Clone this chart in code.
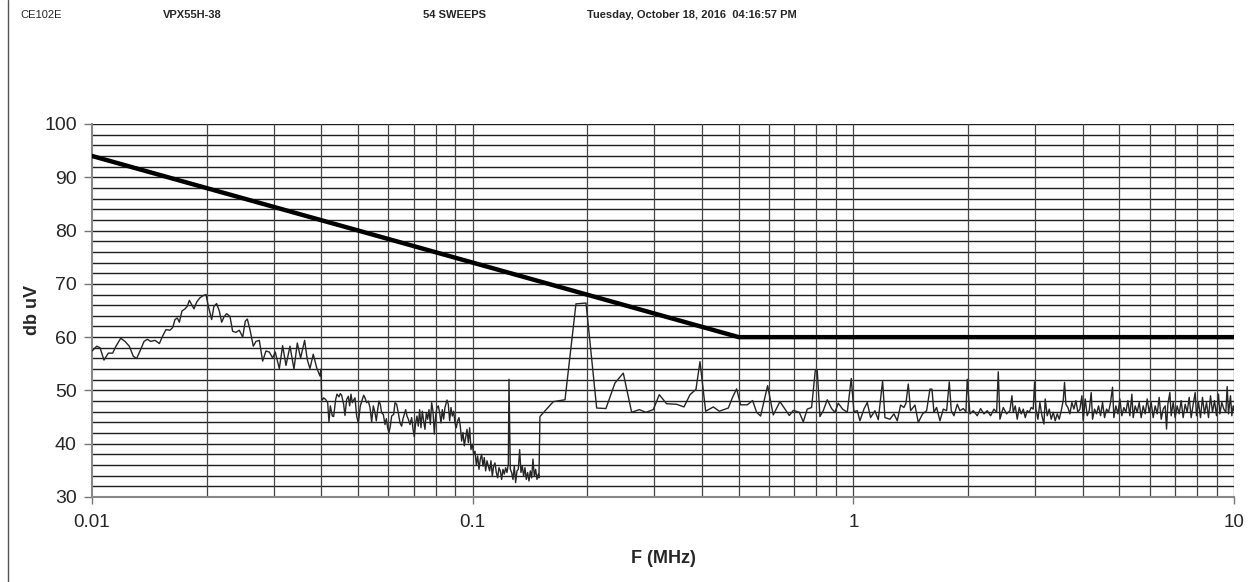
import pandas as pd, numpy as np, matplotlib.pyplot as plt, seaborn as sns
from matplotlib.lines import Line2D
from matplotlib.ticker import FixedLocator, NullFormatter

# header text
header_left = 'CE102E'
header_eut = 'VPX55H-38'
header_sweeps = '54 SWEEPS'
header_date = 'Tuesday, October 18, 2016  04:16:57 PM'

# limit line (dB uV vs MHz)
limit_f = [0.01, 0.5, 10.0]
limit_db = [94.0, 60.0, 60.0]

# band 1: 10 kHz - 40 kHz
band1_f = [0.0100, 0.01029, 0.01050, 0.01075, 0.01104, 0.01133, 0.01156, 0.01190, 0.01221, 0.01253,
           0.01284, 0.01310, 0.01337, 0.01370, 0.01398, 0.01426, 0.01464, 0.01503, 0.01533, 0.01564,
           0.01603, 0.01629, 0.01652, 0.01675, 0.01696, 0.01723, 0.01755, 0.01780, 0.01802, 0.01827,
           0.01853, 0.01884, 0.01922, 0.01961, 0.01993, 0.02021, 0.02062, 0.02091, 0.02125, 0.02160,
           0.02191, 0.02222, 0.02258, 0.02304, 0.02341, 0.02389, 0.02438, 0.02488, 0.02528, 0.02559,
           0.02600, 0.02653, 0.02696, 0.02751, 0.02807, 0.02864, 0.02923, 0.02982, 0.03030, 0.03105,
           0.03168, 0.03233, 0.03312, 0.03393, 0.03462, 0.03532, 0.03619, 0.03677, 0.03737, 0.03813,
           0.03891, 0.03970, 0.03994]
band1_db = [57.4, 58.3, 58.0, 55.7, 57.0, 57.0, 58.3, 59.8, 59.2, 58.3,
            56.4, 56.0, 57.4, 59.2, 59.6, 59.2, 59.4, 58.8, 60.2, 61.4,
            61.3, 61.8, 63.3, 63.6, 62.8, 64.9, 65.3, 65.8, 66.9, 66.1,
            65.3, 66.6, 67.4, 67.8, 68.0, 65.8, 63.3, 65.8, 66.3, 64.9,
            62.8, 63.8, 64.4, 63.9, 61.1, 60.9, 61.3, 60.0, 63.0, 63.4,
            61.4, 58.3, 59.2, 59.4, 55.5, 57.4, 57.2, 56.1, 57.2, 54.1,
            58.4, 54.7, 58.3, 54.0, 58.9, 56.1, 59.4, 55.8, 54.1, 56.8,
            54.3, 52.7, 54.0]

# band 2: 40 kHz - 150 kHz
band2_f = [0.04012, 0.04028, 0.04060, 0.04110, 0.04160, 0.04193, 0.04227, 0.04279, 0.04313, 0.04366,
           0.04401, 0.04455, 0.04491, 0.04527, 0.04582, 0.04619, 0.04666, 0.04714, 0.04752, 0.04790,
           0.04829, 0.04868, 0.04908, 0.04957, 0.05008, 0.05068, 0.05130, 0.05172, 0.05214, 0.05266,
           0.05320, 0.05374, 0.05428, 0.05483, 0.05539, 0.05583, 0.05629, 0.05674, 0.05720, 0.05766,
           0.05825, 0.05884, 0.05932, 0.05980, 0.06028, 0.06077, 0.06126, 0.06201, 0.06251, 0.06314,
           0.06378, 0.06443, 0.06508, 0.06561, 0.06614, 0.06667, 0.06721, 0.06776, 0.06844, 0.06914,
           0.06970, 0.07026, 0.07083, 0.07140, 0.07198, 0.07256, 0.07315, 0.07374, 0.07434, 0.07494,
           0.07555, 0.07616, 0.07678, 0.07740, 0.07803, 0.07866, 0.07930, 0.07994, 0.08059, 0.08124,
           0.08190, 0.08256, 0.08323, 0.08390, 0.08458, 0.08561, 0.08630, 0.08700, 0.08771, 0.08842,
           0.08913, 0.08985, 0.09058, 0.09131, 0.09205, 0.09280, 0.09355, 0.09431, 0.09507, 0.09584,
           0.09662, 0.09740, 0.09819, 0.09898, 0.09979, 0.10060, 0.10141, 0.10223, 0.10306, 0.10389,
           0.10473, 0.10558, 0.10643, 0.10729, 0.10816, 0.10904, 0.10992, 0.11081, 0.11171, 0.11261,
           0.11353, 0.11444, 0.11537, 0.11630, 0.11725, 0.11820, 0.11915, 0.12012, 0.12109, 0.12207,
           0.12306, 0.12406, 0.12456, 0.12557, 0.12658, 0.12761, 0.12864, 0.12968, 0.13073, 0.13179,
           0.13286, 0.13393, 0.13502, 0.13611, 0.13721, 0.13832, 0.13945, 0.14057, 0.14171, 0.14286,
           0.14402, 0.14518, 0.14636, 0.14754, 0.14874, 0.14934]
band2_db = [48.3, 48.2, 48.6, 48.3, 47.7, 44.1, 47.1, 45.2, 45.1, 48.3,
            49.3, 48.8, 49.4, 49.1, 47.4, 45.3, 48.3, 48.9, 47.1, 49.3,
            47.7, 48.2, 48.6, 45.2, 43.9, 47.1, 48.3, 49.1, 48.6, 47.7,
            48.0, 46.8, 44.1, 47.1, 45.8, 44.3, 46.4, 48.0, 47.4, 45.8,
            45.5, 43.6, 44.7, 43.0, 42.1, 43.3, 45.2, 45.5, 47.7, 47.4,
            45.8, 43.9, 43.3, 44.7, 45.5, 46.4, 45.2, 44.6, 43.6, 44.9,
            42.8, 41.3, 43.9, 45.2, 43.3, 46.4, 43.0, 46.1, 44.3, 42.7,
            45.8, 44.6, 46.4, 43.6, 47.7, 46.1, 41.8, 45.3, 46.8, 47.1,
            45.8, 43.9, 46.4, 44.6, 46.8, 48.2, 47.4, 44.3, 46.8, 45.2,
            46.1, 43.9, 43.0, 44.3, 44.9, 43.3, 40.5, 42.1, 39.6, 41.1,
            42.7, 40.2, 43.0, 38.9, 39.9, 38.0, 38.6, 36.1, 37.7, 35.2,
            37.1, 38.0, 35.8, 37.4, 34.9, 36.8, 35.8, 34.9, 36.8, 33.9,
            35.8, 36.4, 34.6, 33.6, 35.5, 34.9, 33.3, 35.2, 34.3, 35.5,
            34.6, 36.1, 52.1, 35.2, 34.6, 33.3, 35.8, 32.7, 34.9, 35.2,
            38.9, 34.6, 35.8, 33.9, 35.5, 33.3, 34.6, 33.0, 34.9, 33.6,
            37.1, 33.9, 35.2, 33.3, 34.3, 33.6]

# band 3: 150 kHz - 2.6 MHz
band3_f = [0.1502, 0.1629, 0.1748, 0.1868, 0.1985, 0.2117, 0.2239, 0.2365, 0.2487, 0.2616,
           0.2740, 0.2852, 0.2982, 0.3092, 0.3232, 0.3434, 0.3590, 0.3723, 0.3860, 0.3955,
           0.4093, 0.4287, 0.4446, 0.4694, 0.4819, 0.4936, 0.5057, 0.5265, 0.5437, 0.5571,
           0.5707, 0.5954, 0.6161, 0.6415, 0.6788, 0.6954, 0.7211, 0.7387, 0.7568, 0.7769,
           0.7943, 0.8040, 0.8171, 0.8337, 0.8541, 0.8768, 0.8946, 0.9128, 0.9371, 0.9640,
           0.9876, 1.0036, 1.0241, 1.0407, 1.0662, 1.0879, 1.1100, 1.1396, 1.1628, 1.1793,
           1.1937, 1.2106, 1.2478, 1.2784, 1.3044, 1.3310, 1.3581, 1.3747, 1.3942, 1.4140,
           1.4516, 1.4812, 1.5205, 1.5578, 1.5895, 1.6088, 1.6284, 1.6549, 1.6886, 1.7230,
           1.7581, 1.7867, 1.8085, 1.8379, 1.8753, 1.9055, 1.9444, 1.9760, 1.9920, 2.0244,
           2.0656, 2.1162, 2.1593, 2.2033, 2.2482, 2.2940, 2.3407, 2.3788, 2.4029, 2.4272,
           2.4767, 2.5271, 2.5785]
band3_db = [45.1, 47.9, 48.25, 66.25, 66.4, 46.7, 46.6, 51.4, 53.25, 45.9,
            46.4, 45.9, 46.4, 49.2, 47.5, 47.4, 46.9, 49.2, 50.2, 55.4,
            46.1, 46.9, 46.1, 46.7, 48.75, 50.3, 47.3, 47.3, 48.1, 45.9,
            45.2, 50.9, 45.4, 47.9, 45.3, 46.25, 45.9, 44.1, 46.5, 46.8,
            53.7, 53.7, 45.1, 46.2, 48.25, 46.6, 45.9, 47.6, 46.5, 45.9,
            52.25, 46.0, 46.2, 44.3, 46.5, 47.75, 44.9, 46.2, 44.5, 48.4,
            51.8, 44.9, 44.6, 45.6, 44.3, 47.25, 46.8, 47.6, 51.2, 46.2,
            47.25, 44.0, 45.6, 46.2, 50.25, 50.25, 45.9, 46.8, 44.3, 46.5,
            46.2, 51.6, 46.2, 45.25, 47.4, 46.2, 46.6, 46.0, 52.1, 45.6,
            46.2, 45.25, 46.6, 45.6, 46.2, 45.25, 46.5, 45.9, 53.5, 44.6,
            46.8, 45.6, 46.2]

# band 4: 2.6 MHz - 10 MHz
band4_f = [2.610, 2.631, 2.663, 2.695, 2.728, 2.761, 2.795, 2.829, 2.863, 2.898,
           2.933, 2.969, 2.993, 3.017, 3.054, 3.091, 3.129, 3.167, 3.192, 3.231,
           3.271, 3.310, 3.351, 3.391, 3.433, 3.474, 3.517, 3.559, 3.588, 3.617,
           3.661, 3.706, 3.751, 3.797, 3.843, 3.889, 3.937, 3.985, 4.017, 4.066,
           4.115, 4.165, 4.216, 4.250, 4.302, 4.354, 4.407, 4.461, 4.515, 4.570,
           4.626, 4.682, 4.739, 4.796, 4.835, 4.894, 4.954, 5.014, 5.075, 5.137,
           5.199, 5.262, 5.326, 5.391, 5.435, 5.501, 5.568, 5.636, 5.704, 5.774,
           5.844, 5.915, 5.987, 6.060, 6.134, 6.208, 6.284, 6.360, 6.438, 6.516,
           6.595, 6.649, 6.702, 6.784, 6.839, 6.922, 7.006, 7.091, 7.178, 7.265,
           7.353, 7.443, 7.534, 7.625, 7.718, 7.812, 7.907, 7.971, 8.068, 8.166,
           8.265, 8.366, 8.468, 8.571, 8.675, 8.781, 8.887, 8.996, 9.105, 9.179,
           9.290, 9.403, 9.518, 9.595, 9.673, 9.790, 9.869, 9.949, 10.0]
band4_db = [49.0, 45.9, 47.1, 44.6, 46.8, 45.6, 46.5, 44.9, 46.2, 45.9,
            46.8, 46.5, 51.6, 46.5, 44.6, 47.75, 45.25, 43.7, 48.4, 45.25,
            46.5, 44.6, 45.9, 44.3, 45.6, 44.6, 46.2, 48.1, 51.5, 47.4,
            46.8, 45.6, 47.75, 46.5, 48.1, 45.9, 46.5, 49.0, 44.3, 48.4,
            45.25, 46.2, 49.6, 44.6, 46.5, 45.6, 47.1, 45.25, 47.75, 44.9,
            46.5, 45.9, 47.75, 50.6, 44.9, 47.1, 45.6, 48.4, 45.25, 46.8,
            45.9, 48.1, 45.25, 49.3, 44.9, 47.1, 45.9, 47.75, 44.9, 47.1,
            45.6, 48.4, 45.9, 47.75, 44.9, 47.1, 45.6, 48.7, 44.6, 46.5,
            47.1, 42.75, 47.4, 49.6, 45.25, 47.75, 44.9, 47.1, 45.6, 48.1,
            44.9, 47.4, 45.9, 48.7, 44.9, 47.4, 49.6, 45.25, 47.75, 44.9,
            48.7, 45.6, 47.75, 44.9, 49.0, 45.9, 48.1, 45.25, 49.3, 45.6,
            47.75, 46.5, 45.9, 50.75, 45.6, 49.0, 45.25, 47.1, 46.2]

bands = [(band1_f, band1_db), (band2_f, band2_db), (band3_f, band3_db), (band4_f, band4_db)]
trace = pd.concat([pd.DataFrame({'F (MHz)': f, 'dBuV': d}) for f, d in bands], ignore_index=True)
limit = pd.DataFrame({'F (MHz)': limit_f, 'dBuV': limit_db})

sns.set_style('white')
plt.rcParams['font.family'] = ['Liberation Sans', 'DejaVu Sans']

fig = plt.figure(figsize=(12.58, 5.82), dpi=100)
ax = fig.add_axes([92 / 1258, 1 - 497 / 582, (1234 - 92) / 1258, (497 - 124) / 582])
ax.set_xscale('log')

# grid: every 2 dB horizontally, 1-9 per decade vertically
for y in range(32, 101, 2):
    ax.axhline(y, color='#1e1e1e', lw=1.0, zorder=1)
minor = [m * 10.0 ** e for e in (-2, -1, 0) for m in range(2, 10)]
for x in minor + [0.1, 1.0, 10.0]:
    ax.axvline(x, color='#444444', lw=0.9, zorder=1)

sns.lineplot(data=trace, x='F (MHz)', y='dBuV', estimator=None, sort=False,
             color='#262626', lw=1.0, ax=ax, zorder=3)
sns.lineplot(data=limit, x='F (MHz)', y='dBuV', estimator=None, sort=False,
             color='black', lw=3.2, ax=ax, zorder=4)

ax.set_xlim(0.01, 10)
ax.set_ylim(30, 100)
ax.set_yticks(range(30, 101, 10))
ax.set_xticks([0.01, 0.1, 1, 10])
ax.set_xticklabels(['0.01', '0.1', '1', '10'])
ax.xaxis.set_minor_locator(FixedLocator(minor))
ax.xaxis.set_minor_formatter(NullFormatter())
ax.tick_params(axis='x', which='minor', length=0)
ax.tick_params(axis='x', which='major', length=5, width=1, color='#777777', pad=7, labelsize=13.5)
ax.tick_params(axis='y', which='major', length=6, width=1, color='#777777', pad=5, labelsize=14)
ax.tick_params(left=True, bottom=True)

for s in ['top', 'right']:
    ax.spines[s].set_visible(False)
for s in ['left', 'bottom']:
    ax.spines[s].set_color('#888888')
    ax.spines[s].set_linewidth(1.5)

ax.set_xlabel('F (MHz)', fontsize=13, fontweight='bold', labelpad=14)
ax.set_ylabel('db uV', fontsize=13, fontweight='bold', labelpad=2)

hdr = dict(fontsize=8, family=['Liberation Sans Narrow', 'Liberation Sans', 'DejaVu Sans'], va='center')
fig.text(20 / 1258, 1 - 15 / 582, header_left, **hdr)
fig.text(163 / 1258, 1 - 15 / 582, header_eut, fontweight='bold', **hdr)
fig.text(423 / 1258, 1 - 15 / 582, header_sweeps, fontweight='bold', **hdr)
fig.text(587 / 1258, 1 - 15 / 582, header_date, fontweight='bold', **hdr)

fig.add_artist(Line2D([8 / 1258, 8 / 1258], [0, 1], color='#555555', lw=1))

fig.savefig('out.png', dpi=100)
